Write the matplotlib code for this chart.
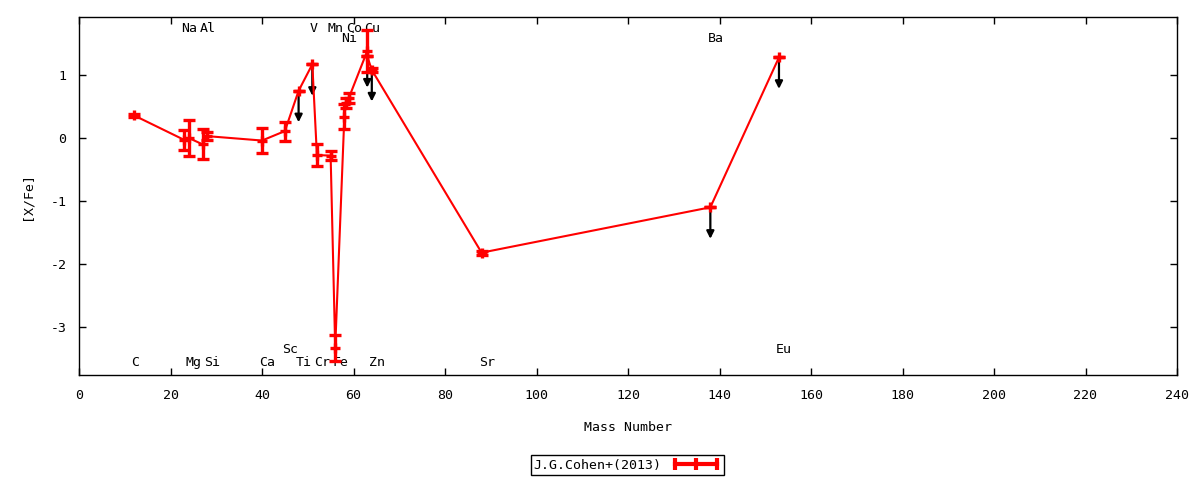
import matplotlib
matplotlib.use("Agg")
import matplotlib.pyplot as plt
from matplotlib.lines import Line2D

plt.rcParams['font.family'] = ['DejaVu Sans Mono']
plt.rcParams['axes.unicode_minus'] = False

# ---- data ----
mass = [12, 23, 24, 27, 28, 40, 45, 48, 51, 52, 55, 56, 58, 58.4, 59, 63, 63, 64, 88, 138, 153]
xfe = [0.36, -0.03, 0.00, -0.10, 0.03, -0.04, 0.11, 0.75, 1.17, -0.27, -0.28, -3.33,
       0.34, 0.55, 0.64, 1.38, 1.30, 1.08, -1.82, -1.10, 1.28]
err = [0.02, 0.16, 0.28, 0.24, 0.06, 0.20, 0.15, 0.0, 0.0, 0.17, 0.07, 0.21,
       0.20, 0.08, 0.08, 0.33, 0.0, 0.03, 0.03, 0.0, 0.0]
upper = [False, False, False, False, False, False, False, True, True, False, False, False,
         False, False, False, False, True, True, False, True, True]
arrow_len = 0.5

elements = ['C', 'Na', 'Mg', 'Al', 'Si', 'Ca', 'Sc', 'Ti', 'V', 'Cr', 'Mn', 'Fe',
            'Ni', 'Co', 'Cu', 'Zn', 'Sr', 'Ba', 'Eu']
elem_mass = [12, 23, 24, 27, 28, 40, 45, 48, 51, 52, 55, 56, 58, 59, 63, 64, 88, 138, 153]
elem_label_y = [-3.57, 1.746, -3.57, 1.746, -3.57, -3.57, -3.35, -3.57, 1.746, -3.57,
                1.746, -3.57, 1.587, 1.746, 1.746, -3.57, -3.57, 1.587, -3.35]

xticks = list(range(0, 241, 20))
yticks = [-3, -2, -1, 0, 1]
legend_label = 'J.G.Cohen+(2013)'

# ---- figure ----
fig = plt.figure(figsize=(12, 4.8), dpi=100)
ax = fig.add_axes([79/1200, 1-375/480, (1177-79)/1200, (375-17)/480])

red = '#ff0000'
# upper-limit arrows
for m, v, u in zip(mass, xfe, upper):
    if u:
        ax.annotate('', xy=(m, v - arrow_len), xytext=(m, v),
                    arrowprops=dict(arrowstyle='-|>', color='black', lw=1.6,
                                    mutation_scale=11, shrinkA=0, shrinkB=0),
                    zorder=2)

ax.plot(mass, xfe, color=red, lw=1.5, zorder=3)
ax.errorbar(mass, xfe, yerr=err, fmt='+', color=red, ecolor=red, elinewidth=2.4,
            capsize=4, capthick=2.4, markersize=7, mew=2.4, zorder=4)

for e, m, y in zip(elements, elem_mass, elem_label_y):
    ax.text(m - 0.65, y, e, ha='left', va='center', fontsize=9.5, color='black')

ax.set_xlim(0, 240)
ax.set_ylim(-3.762, 1.921)
ax.set_xticks(xticks)
ax.set_yticks(yticks)
ax.tick_params(direction='in', top=True, right=True, length=5, width=1,
               labelsize=9.5)
ax.tick_params(axis='x', pad=10)
ax.tick_params(axis='y', pad=9)
for s in ax.spines.values():
    s.set_linewidth(1)
ax.set_xlabel('Mass Number', fontsize=9.5, labelpad=14)
ax.set_ylabel('[X/Fe]', fontsize=9.5, labelpad=12)

handle = Line2D([], [], color=red, lw=3, marker='|', markersize=8, mew=3)
fig.legend([handle], [legend_label], loc='center', bbox_to_anchor=(627.5/1200, 1-465/480),
           markerfirst=False, numpoints=3, handlelength=3.8, handletextpad=0.7,
           fancybox=False, edgecolor='black', framealpha=1, fontsize=9.5,
           borderpad=0.25, borderaxespad=0)
fig.legends[0].get_frame().set_linewidth(1)

fig.savefig('out.png', dpi=100)
